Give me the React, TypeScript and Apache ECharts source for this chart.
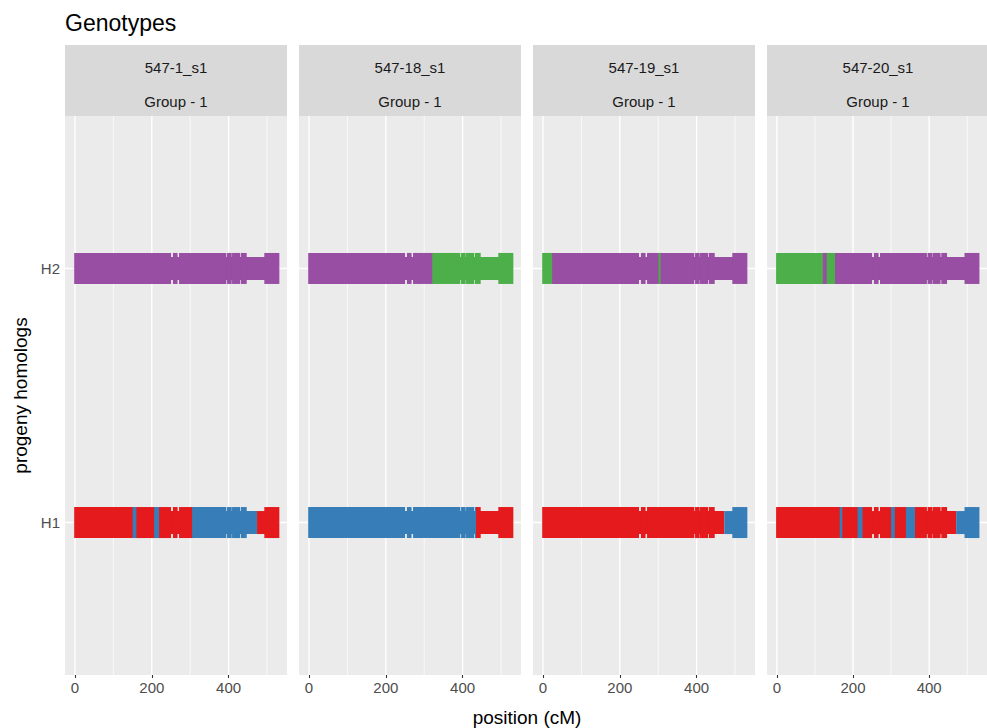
import React, { useEffect, useRef } from "react";
import * as echarts from "echarts";

// Facets (individuals) and the linkage group shown in every strip
const individuals = ["547-1_s1", "547-18_s1", "547-19_s1", "547-20_s1"];
const linkageGroup = "Group - 1";
const homologs = ["H1", "H2"];

// x axis (cM)
const xBreaks = [0, 200, 400];
const xMinorBreaks = [100, 300, 500];
const xLimits = [-26, 552];
const yLimits = [0.4, 2.6];

// stretches of the map that are densely covered by markers (cM)
const markerRuns: [number, number][] = [
  [0, 248], [257, 265], [273, 392], [398, 406], [411, 428], [434, 445], [495, 530],
];

// parental homologs a-d
const parentKeys = ["a", "b", "c", "d"];
const parentColors = ["#E41A1C", "#377EB8", "#4DAF4A", "#984EA3"];

type Seg = [number, number, string];

// inherited segments [start cM, end cM, parental homolog]
const ind1H1: Seg[] = [[0, 152, "a"], [152, 162, "b"], [162, 208, "a"], [208, 221, "b"], [221, 307, "a"], [307, 474, "b"], [474, 530, "a"]];
const ind1H2: Seg[] = [[0, 530, "d"]];
const ind2H1: Seg[] = [[0, 437, "b"], [437, 530, "a"]];
const ind2H2: Seg[] = [[0, 323, "d"], [323, 530, "c"]];
const ind3H1: Seg[] = [[0, 472, "a"], [472, 530, "b"]];
const ind3H2: Seg[] = [[0, 26, "c"], [26, 303, "d"], [303, 308, "c"], [308, 530, "d"]];
const ind4H1: Seg[] = [[0, 167, "a"], [167, 174, "b"], [174, 214, "a"], [214, 227, "b"], [227, 302, "a"], [302, 312, "b"], [312, 341, "a"], [341, 365, "b"], [365, 471, "a"], [471, 530, "b"]];
const ind4H2: Seg[] = [[0, 123, "c"], [123, 133, "d"], [133, 155, "c"], [155, 530, "d"]];

const genotypes: [Seg[], Seg[]][] = [
  [ind1H1, ind1H2],
  [ind2H1, ind2H2],
  [ind3H1, ind3H2],
  [ind4H1, ind4H2],
];

const FONT = "'Liberation Sans', Arial, sans-serif";
const panelLefts = [65, 299, 533, 767];
const panelWidth = 222;
const stripTop = 45;
const panelTop = 116;
const panelBottom = 675;
const BAND_HALF = 11.5;
const TICK_HALF = 15.5;

function buildOption(): echarts.EChartsOption {
  const grids: any[] = [];
  const xAxes: any[] = [];
  const yAxes: any[] = [];
  const series: any[] = [];
  const graphics: any[] = [];

  graphics.push({
    type: "text",
    x: 65,
    y: 23,
    style: {
      text: "Genotypes",
      fontSize: 23,
      fontFamily: FONT,
      fill: "#000000",
      textAlign: "left",
      textVerticalAlign: "middle",
      align: "left",
      verticalAlign: "middle",
    },
  });

  individuals.forEach((name, i) => {
    const left = panelLefts[i];
    grids.push({
      left,
      top: panelTop,
      width: panelWidth,
      height: panelBottom - panelTop,
      show: true,
      backgroundColor: "#EBEBEB",
      borderWidth: 0,
    });
    xAxes.push({
      type: "value",
      gridIndex: i,
      min: xLimits[0],
      max: xLimits[1],
      axisLine: { show: false },
      splitLine: { show: false },
      axisTick: {
        show: true,
        customValues: xBreaks,
        length: 3,
        lineStyle: { color: "#333333", width: 1.1 },
      },
      axisLabel: {
        show: true,
        customValues: xBreaks,
        margin: 5,
        color: "#4D4D4D",
        fontSize: 15,
        fontFamily: FONT,
      },
    });
    yAxes.push({
      type: "value",
      gridIndex: i,
      min: yLimits[0],
      max: yLimits[1],
      axisLine: { show: false },
      splitLine: { show: false },
      axisTick: {
        show: i === 0,
        customValues: [1, 2],
        length: 3,
        lineStyle: { color: "#333333", width: 1.1 },
      },
      axisLabel: {
        show: i === 0,
        customValues: [1, 2],
        margin: 5,
        color: "#4D4D4D",
        fontSize: 15,
        fontFamily: FONT,
        formatter: (v: number) => homologs[Math.round(v) - 1] ?? "",
      },
    });

    // strip
    graphics.push({
      type: "rect",
      shape: { x: left, y: stripTop, width: panelWidth, height: panelTop - stripTop },
      style: { fill: "#D9D9D9" },
    });
    [name, linkageGroup].forEach((t, k) => {
      graphics.push({
        type: "text",
        x: left + panelWidth / 2,
        y: k === 0 ? 67 : 101,
        style: {
          text: t,
          fontSize: 15,
          fontFamily: FONT,
          fill: "#1A1A1A",
          textAlign: "center",
          textVerticalAlign: "middle",
          align: "center",
          verticalAlign: "middle",
        },
      });
    });

    // panel grid lines: [value, kind] kind 0 = major x, 1 = minor x, 2 = major y
    const gridData = [
      ...xMinorBreaks.map((v) => [v, 1]),
      ...xBreaks.map((v) => [v, 0]),
      ...[1, 2].map((v) => [v, 2]),
    ];
    series.push({
      type: "custom",
      xAxisIndex: i,
      yAxisIndex: i,
      silent: true,
      z: 1,
      data: gridData,
      renderItem: (params: any, api: any) => {
        const v = api.value(0);
        const kind = api.value(1);
        const cs = params.coordSys;
        if (kind === 2) {
          const p = api.coord([0, v]);
          return {
            type: "line",
            shape: { x1: cs.x, y1: p[1], x2: cs.x + cs.width, y2: p[1] },
            style: { stroke: "#FFFFFF", lineWidth: 1.4 },
          };
        }
        const p = api.coord([v, 1]);
        return {
          type: "line",
          shape: { x1: p[0], y1: cs.y, x2: p[0], y2: cs.y + cs.height },
          style: { stroke: "#FFFFFF", lineWidth: kind === 0 ? 1.4 : 0.7 },
        };
      },
    });

    // homolog bands and marker ticks
    const bands: number[][] = [];
    const ticks: number[][] = [];
    genotypes[i].forEach((segs, h) => {
      const y = h + 1;
      segs.forEach(([s, e, p]) => {
        const c = parentKeys.indexOf(p);
        bands.push([s, e, y, c]);
        markerRuns.forEach(([rs, re]) => {
          const a = Math.max(s, rs);
          const b = Math.min(e, re);
          if (b > a) ticks.push([a, b, y, c]);
        });
      });
    });

    const rectRenderer = (half: number, pad: number) => (params: any, api: any) => {
      const s = api.value(0);
      const e = api.value(1);
      const y = api.value(2);
      const c = api.value(3);
      const p0 = api.coord([s, y]);
      const p1 = api.coord([e, y]);
      return {
        type: "rect",
        shape: { x: p0[0] - pad, y: p0[1] - half, width: p1[0] - p0[0] + 2 * pad, height: 2 * half },
        style: { fill: parentColors[c] },
      };
    };

    series.push({
      type: "custom",
      xAxisIndex: i,
      yAxisIndex: i,
      silent: true,
      z: 2,
      data: bands,
      renderItem: rectRenderer(BAND_HALF, 0),
    });
    series.push({
      type: "custom",
      xAxisIndex: i,
      yAxisIndex: i,
      silent: true,
      z: 3,
      data: ticks,
      renderItem: rectRenderer(TICK_HALF, 0.8),
    });
  });

  graphics.push({
    type: "text",
    x: 20,
    y: (panelTop + panelBottom) / 2,
    rotation: Math.PI / 2,
    style: {
      text: "progeny homologs",
      fontSize: 19,
      fontFamily: FONT,
      fill: "#000000",
      textAlign: "center",
      textVerticalAlign: "middle",
      align: "center",
      verticalAlign: "middle",
    },
  });
  graphics.push({
    type: "text",
    x: (panelLefts[0] + panelLefts[3] + panelWidth) / 2,
    y: 717,
    style: {
      text: "position (cM)",
      fontSize: 19,
      fontFamily: FONT,
      fill: "#000000",
      textAlign: "center",
      textVerticalAlign: "middle",
      align: "center",
      verticalAlign: "middle",
    },
  });

  return {
    animation: false,
    backgroundColor: "#FFFFFF",
    grid: grids,
    xAxis: xAxes,
    yAxis: yAxes,
    series,
    graphic: { elements: graphics },
  };
}

export default function App() {
  const ref = useRef<HTMLDivElement>(null);
  useEffect(() => {
    document.body.style.margin = "0";
    if (!ref.current) return;
    const chart = echarts.init(ref.current, undefined, { renderer: "svg" });
    chart.setOption(buildOption());
    return () => chart.dispose();
  }, []);
  return <div ref={ref} style={{ width: 987, height: 728 }} />;
}
